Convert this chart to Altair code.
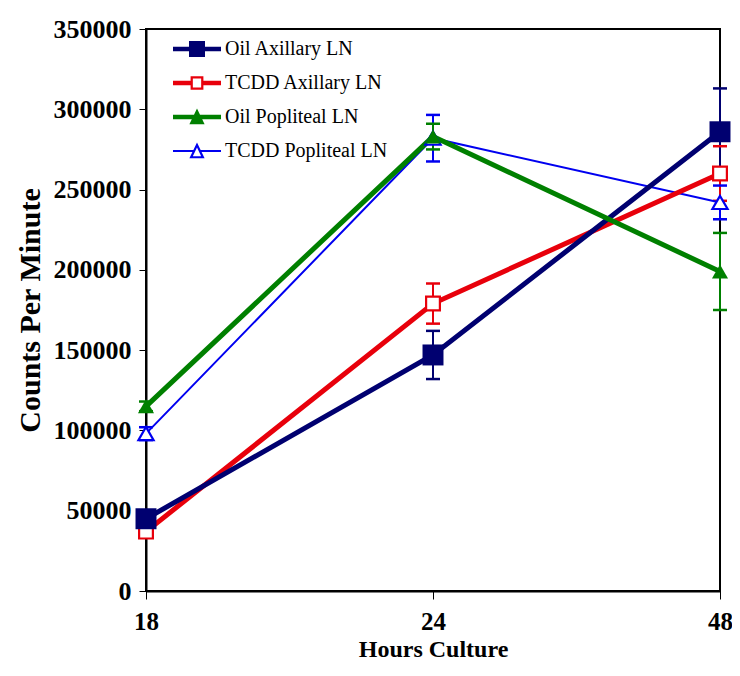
import altair as alt
import pandas as pd

series = ["Oil Axillary LN", "TCDD Axillary LN", "Oil Popliteal LN", "TCDD Popliteal LN"]
hours = ["18", "24", "48"]

oil_axillary = [45000, 147000, 286000]
oil_axillary_err = [3000, 15000, 27000]
tcdd_axillary = [37000, 179000, 260000]
tcdd_axillary_err = [2000, 12500, 17000]
oil_popliteal = [115000, 283000, 199000]
oil_popliteal_err = [3000, 8000, 24000]
tcdd_popliteal = [98000, 282000, 242000]
tcdd_popliteal_err = [4000, 14500, 10500]

colors = ["#000070", "#e8000b", "#008000", "#0000f0"]
line_widths = [5, 5, 5, 2]
marker_shapes = ["square", "square", "triangle-up", "triangle-up"]
marker_filled = [True, False, True, False]
marker_sizes = [440, 190, 260, 230]
draw_order = [2, 1, 3, 0]

values = [oil_axillary, tcdd_axillary, oil_popliteal, tcdd_popliteal]
errors = [oil_axillary_err, tcdd_axillary_err, oil_popliteal_err, tcdd_popliteal_err]

rows = []
for i, s in enumerate(series):
    for j, h in enumerate(hours):
        v = values[i][j]
        e = errors[i][j]
        rows.append({
            "series": s, "hours": h, "value": v, "lo": v - e, "hi": v + e,
            "stroke_c": colors[i],
            "fill_c": colors[i] if marker_filled[i] else "white",
            "lw": line_widths[i], "shape": marker_shapes[i],
            "msize": marker_sizes[i], "mw": 0 if marker_filled[i] else 2.2,
            "draw": draw_order[i],
        })
df = pd.DataFrame(rows).sort_values(["draw", "hours"]).reset_index(drop=True)

# legend symbols: line segment + marker, drawn as filled areas
legend_paths = [
    "M-3,-0.28H3V0.28H-3Z M-1,-1H1V1H-1Z",
    "M-3,-0.28H-0.8V0.28H-3Z M0.8,-0.28H3V0.28H0.8Z M-0.8,-0.85H0.8V0.85H-0.8Z M-0.52,-0.57V0.57H0.52V-0.57Z",
    "M-3,-0.28H3V0.28H-3Z M0,-1.05L0.95,0.9H-0.95Z",
    "M-3,-0.13H-0.47V0.13H-3Z M0.47,-0.13H3V0.13H0.47Z M0,-1.05L0.95,0.9H-0.95Z M0,-0.45L-0.52,0.65H0.52Z",
]

FONT = "Liberation Serif"

x_enc = alt.X(
    "hours:O", sort=hours,
    scale=alt.Scale(type="point", padding=0),
    axis=alt.Axis(
        title="Hours Culture", labelAngle=0, labelFont=FONT, labelFontSize=25,
        labelFontWeight="bold", labelColor="black", labelPadding=10,
        tickSize=8, tickColor="black", domainColor="black", domainWidth=2,
        titleFont=FONT, titleFontSize=24, titleFontWeight="bold",
        titleColor="black", titlePadding=3,
    ),
)
y_axis = alt.Axis(
    title="Counts Per Minute", values=list(range(0, 350001, 50000)), format="d",
    labelFont=FONT, labelFontSize=26, labelFontWeight="bold", labelColor="black",
    labelPadding=8, tickSize=7, tickColor="black", domainColor="black",
    domainWidth=2, grid=False, titleFont=FONT, titleFontSize=30,
    titleFontWeight="bold", titleColor="black", titlePadding=8,
)
y_scale = alt.Scale(domain=[0, 350000], nice=False)

base = alt.Chart(df)

err_rules = base.mark_rule(strokeWidth=2).encode(
    x=x_enc,
    y=alt.Y("lo:Q", scale=y_scale, axis=y_axis),
    y2="hi:Q",
    stroke=alt.Stroke("stroke_c:N", scale=None),
)
caps_lo = base.mark_tick(size=14, thickness=2.5, opacity=1).encode(
    x=x_enc, y=alt.Y("lo:Q", scale=y_scale),
    fill=alt.Fill("stroke_c:N", scale=None),
)
caps_hi = base.mark_tick(size=14, thickness=2.5, opacity=1).encode(
    x=x_enc, y=alt.Y("hi:Q", scale=y_scale),
    fill=alt.Fill("stroke_c:N", scale=None),
)
lines = base.mark_line().encode(
    x=x_enc, y=alt.Y("value:Q", scale=y_scale),
    detail="series:N",
    stroke=alt.Stroke("stroke_c:N", scale=None),
    strokeWidth=alt.StrokeWidth("lw:Q", scale=None),
)
squares = base.transform_filter(alt.datum.shape == "square").mark_point(
    shape="square", filled=True, opacity=1
).encode(
    x=x_enc, y=alt.Y("value:Q", scale=y_scale),
    fill=alt.Fill("fill_c:N", scale=None),
    stroke=alt.Stroke("stroke_c:N", scale=None),
    size=alt.Size("msize:Q", scale=None),
    strokeWidth=alt.StrokeWidth("mw:Q", scale=None),
)
triangles = base.transform_filter(alt.datum.shape == "triangle-up").mark_point(
    shape="triangle-up", filled=True, opacity=1
).encode(
    x=x_enc, y=alt.Y("value:Q", scale=y_scale),
    fill=alt.Fill("fill_c:N", scale=None),
    stroke=alt.Stroke("stroke_c:N", scale=None),
    size=alt.Size("msize:Q", scale=None),
    strokeWidth=alt.StrokeWidth("mw:Q", scale=None),
)

leg = alt.Legend(
    title=None, orient="none", legendX=41, legendY=10,
    symbolSize=256, symbolStrokeWidth=0, symbolOpacity=1,
    labelFont=FONT, labelFontSize=20, labelColor="black", labelLimit=400,
    labelOffset=18, rowPadding=14, padding=0,
)
legend_layer = alt.Chart(pd.DataFrame({"series": series})).transform_filter(
    "false"
).mark_point(filled=True, size=256, strokeWidth=0, opacity=1).encode(
    color=alt.Color("series:N", scale=alt.Scale(domain=series, range=colors), legend=leg),
    shape=alt.Shape("series:N", scale=alt.Scale(domain=series, range=legend_paths), legend=leg),
)

chart = alt.layer(
    err_rules, caps_lo, caps_hi, lines, squares, triangles, legend_layer
).properties(
    width=574, height=562,
    padding={"left": 138, "top": 21, "right": 12, "bottom": 72},
    autosize=alt.AutoSizeParams(type="none"),
).configure_view(
    stroke="black", strokeWidth=2
)

chart.save("out.html", embed_options={"renderer": "svg", "actions": False})
